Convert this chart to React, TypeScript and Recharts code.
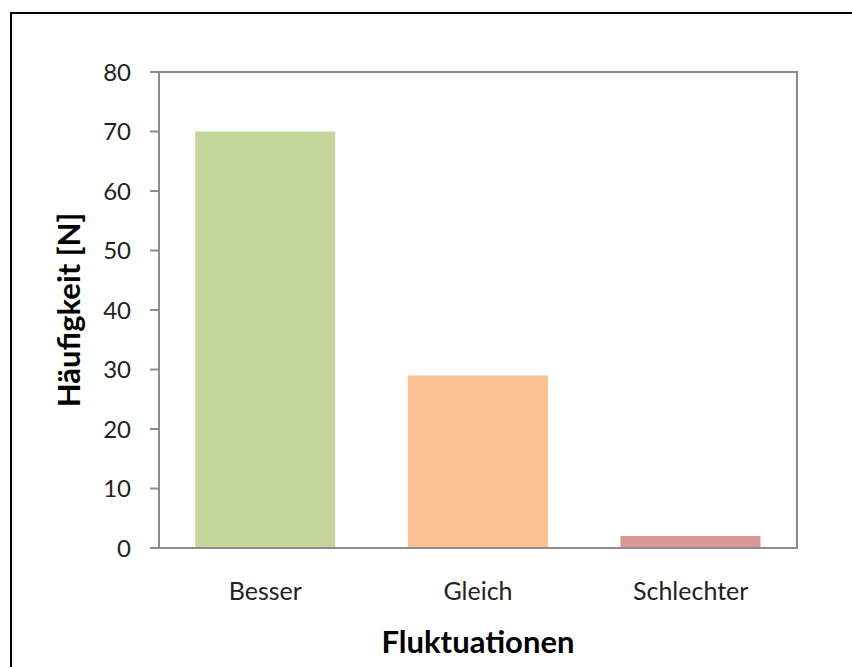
import { Bar, BarChart, Cell, Label, ReferenceArea, XAxis, YAxis } from "recharts";

const categories = ["Besser", "Gleich", "Schlechter"];
const counts = [70, 29, 2];
const barColors = ["#c3d69b", "#fac090", "#d99694"];
const yTicks = [0, 10, 20, 30, 40, 50, 60, 70, 80];

const data = categories.map((name, i) => ({ name, value: counts[i] }));

const axisColor = "#8c8c8c";
const font = "Lato, 'Open Sans', sans-serif";

export default function App() {
  return (
    <div
      style={{
        position: "absolute",
        left: 0,
        top: 0,
        width: 852,
        height: 667,
        overflow: "hidden",
        background: "#fff",
      }}
    >
      <div
        style={{
          position: "absolute",
          left: 10,
          top: 12,
          width: 900,
          height: 700,
          border: "2px solid #000",
          boxSizing: "border-box",
        }}
      />
      <div style={{ position: "absolute", left: 0, top: 0 }}>
        <BarChart
          width={852}
          height={667}
          data={data}
          margin={{ top: 72, right: 55, left: 0, bottom: 0 }}
          barCategoryGap="17%"
        >
          <ReferenceArea
            y1={0}
            y2={80}
            fill="none"
            stroke={axisColor}
            strokeWidth={2}
            ifOverflow="visible"
          />
          <XAxis
            dataKey="name"
            height={119}
            tickLine={false}
            tickSize={0}
            tickMargin={34}
            axisLine={{ stroke: axisColor, strokeWidth: 2 }}
            tick={{ fill: "#222", fontSize: 25, fontFamily: font }}
          >
            <Label
              value="Fluktuationen"
              position="insideBottom"
              offset={14}
              style={{ fill: "#000", fontSize: 31, fontWeight: 700, fontFamily: font }}
            />
          </XAxis>
          <YAxis
            width={159}
            domain={[0, 80]}
            ticks={yTicks}
            interval={0}
            tickSize={9}
            tickMargin={19}
            tickLine={{ stroke: axisColor, strokeWidth: 2 }}
            axisLine={{ stroke: axisColor, strokeWidth: 2 }}
            tick={{ fill: "#222", fontSize: 24, fontFamily: font }}
          >
            <Label
              content={({ viewBox }: any) => {
                const cx = 68;
                const cy = viewBox.y + viewBox.height / 2;
                return (
                  <text
                    x={cx}
                    y={cy}
                    transform={`rotate(-90 ${cx} ${cy})`}
                    textAnchor="middle"
                    dominantBaseline="central"
                    style={{ fill: "#000", fontSize: 31, fontWeight: 700, fontFamily: font }}
                  >
                    Häufigkeit [N]
                  </text>
                );
              }}
            />
          </YAxis>
          <Bar dataKey="value" isAnimationActive={false}>
            {data.map((d, i) => (
              <Cell key={d.name} fill={barColors[i]} />
            ))}
          </Bar>
        </BarChart>
      </div>
    </div>
  );
}
